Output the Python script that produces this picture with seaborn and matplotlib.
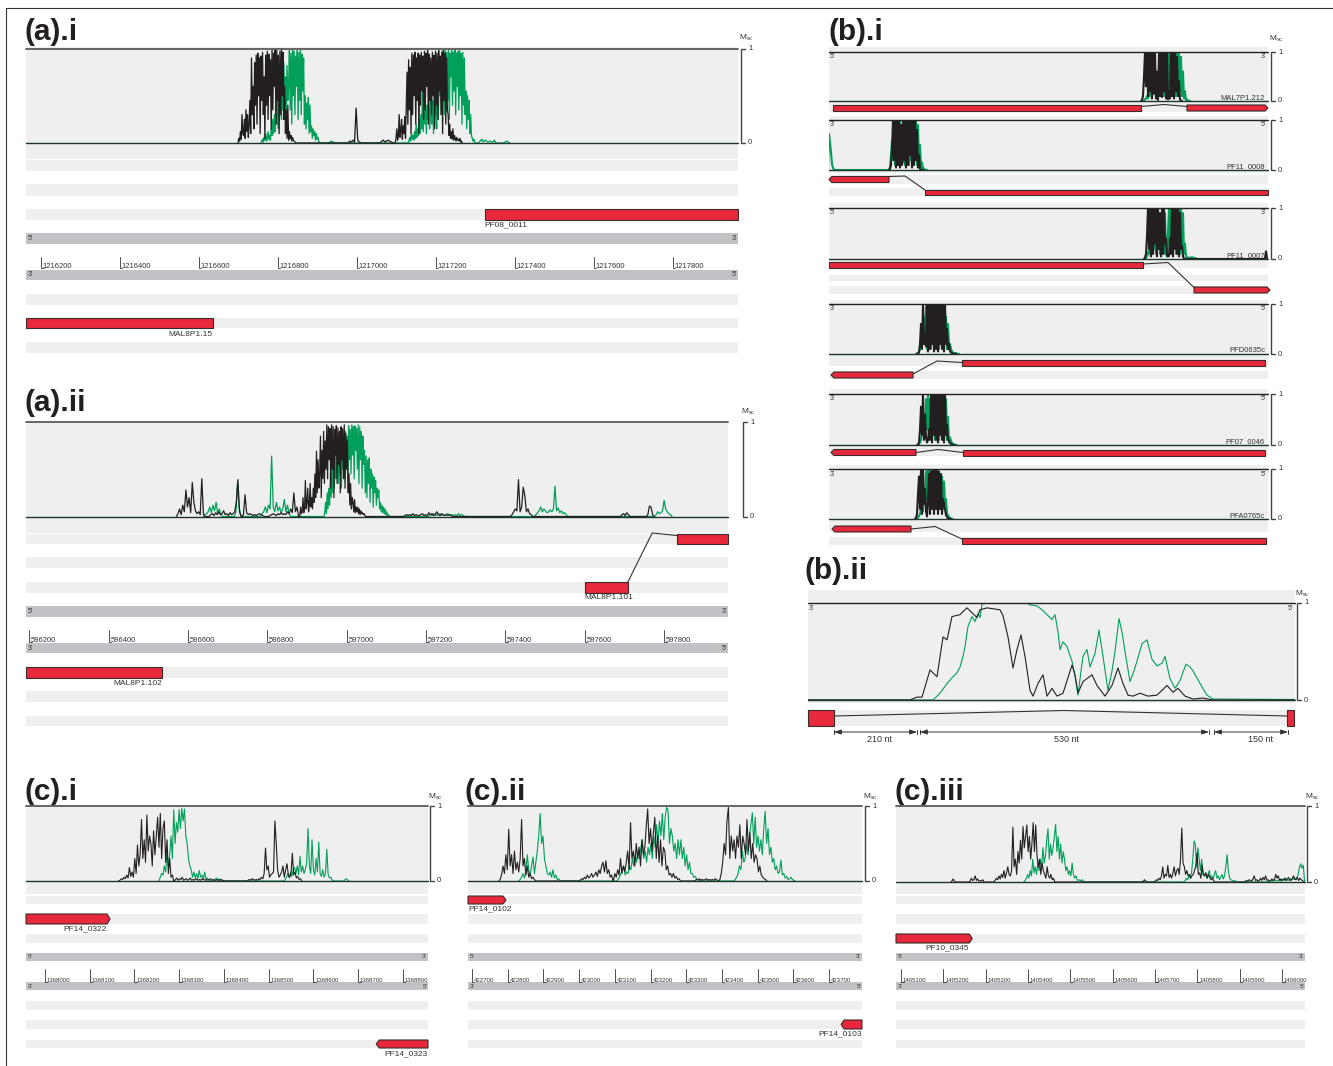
import numpy as np
import pandas as pd
import matplotlib
matplotlib.use("Agg")
import matplotlib.pyplot as plt
from matplotlib.patches import Polygon
import seaborn as sns

sns.set_theme(style="white")
plt.rcParams["font.family"] = ["Liberation Sans", "DejaVu Sans"]
plt.rcParams["mathtext.fontset"] = "custom"
plt.rcParams["mathtext.rm"] = "Liberation Sans"

GREEN = "#00a05a"
BLACK = "#231f20"
BASE = "#1e3329"
RED = "#e8293b"
EDGE = "#3a2a2a"
STRIPE = "#efefef"
STRAND = "#c1c2c5"
TXT = "#333333"

# ---------------------------------------------------------------- data
# Msc traces are lists of (start position, values[, spacing]); spacing defaults per panel.

# (a).i  window on chromosome 8
ai_range = (1216162, 1217965)
ai_ticks = [1216200, 1216400, 1216600, 1216800, 1217000, 1217200, 1217400, 1217600, 1217800]
ai_black = [
    (1216701, [0.05, 0.02, 0.12, 0.04, 0.30, 0.10, 0.08, 0.25, 0.05, 0.35, 0.12, 0.30, 0.06, 0.20,
               0.45, 0.10, 0.90, 0.30, 0.60, 0.15, 0.85, 0.40,
               0.93, 0.20, 0.95, 0.50, 0.90, 0.10, 0.92, 0.45, 0.96, 0.30, 0.70, 0.05, 0.93, 0.40, 0.97, 0.25, 0.94, 0.50,
               0.88, 0.15, 0.99, 0.35, 0.95, 0.60, 1.00, 0.20, 0.98, 0.45, 0.93, 0.10, 0.97, 0.30, 1.00, 0.50, 0.96, 0.25,
               0.60, 0.10, 0.35, 0.05, 0.40, 0.03, 0.12, 0.05,
               0.08, 0.02, 0.06, 0.03, 0.02, 0.01], 2),
    (1216982, [0.02, 0.01, 0.03, 0.01, 0.37, 0.03, 0.01]),
    (1217063, [0.02, 0.03, 0.01, 0.02, 0.03, 0.02, 0.01]),
    (1217099, [0.05, 0.15, 0.03, 0.08, 0.30, 0.06, 0.12, 0.25, 0.04, 0.18, 0.10, 0.28, 0.05, 0.40,
               0.75, 0.20, 0.88, 0.35, 0.80, 0.10,
               0.95, 0.30, 0.93, 0.50, 0.96, 0.20, 0.90, 0.45, 0.95, 0.10, 0.93, 0.40, 0.96, 0.55, 0.92, 0.25, 0.97, 0.35,
               0.95, 0.60, 0.98, 0.20, 0.94, 0.45, 0.90, 0.30, 0.96, 0.50, 0.93, 0.15, 0.97, 0.40, 0.95, 0.25, 0.98, 0.55,
               0.92, 0.30, 0.96, 0.10, 0.98, 0.45, 0.95, 0.20, 0.90, 0.35,
               0.30, 0.08, 0.20, 0.05, 0.12, 0.04, 0.15, 0.03, 0.08,
               0.05, 0.02, 0.06, 0.03, 0.04, 0.02, 0.05, 0.01, 0.02], 2),
]
ai_green = [
    (1216759, [0.02, 0.04, 0.01, 0.06, 0.03, 0.10, 0.02, 0.05, 0.12, 0.04, 0.08, 0.03, 0.15,
               0.08, 0.25, 0.10, 0.30, 0.12, 0.50, 0.20, 0.45, 0.15, 0.60, 0.30, 0.55, 0.25,
               0.78, 0.35, 0.85, 0.40, 0.70, 0.30, 0.82, 0.45, 0.60,
               0.98, 0.35, 0.95, 0.20, 0.99, 0.50, 0.97, 0.30, 0.92, 0.60, 0.98, 0.25, 0.96, 0.45, 0.99, 0.30, 0.94, 0.55,
               0.90, 0.20,
               0.50, 0.15, 0.42, 0.25, 0.48, 0.10, 0.40, 0.12,
               0.18, 0.05, 0.15, 0.08, 0.12, 0.03, 0.10, 0.04, 0.06,
               0.02, 0.01], 2),
    (1216932, [0.01, 0.02, 0.01]),
    (1217132, [0.03, 0.06, 0.02, 0.10, 0.04, 0.08, 0.03, 0.12, 0.05, 0.20, 0.06, 0.15, 0.08, 0.25,
               0.10, 0.30, 0.15, 0.55, 0.12, 0.60, 0.20, 0.35, 0.10, 0.40, 0.25, 0.50, 0.15, 0.30, 0.65, 0.20, 0.45, 0.10,
               0.55, 0.30, 0.40, 0.15, 0.60, 0.25, 0.70,
               0.50, 0.85, 0.40, 0.97,
               0.50, 0.95, 0.30, 0.98, 0.60, 0.96, 0.45, 0.99, 0.25, 0.95, 0.70, 0.98, 0.40, 0.96, 0.55, 0.99, 0.30, 0.95,
               0.60, 0.97, 0.35, 0.98, 0.50, 0.95, 0.20, 0.96, 0.40, 0.90,
               0.30, 0.55, 0.15, 0.50, 0.25, 0.45, 0.10, 0.30, 0.08,
               0.05, 0.02, 0.04, 0.01], 2),
    (1217312, [0.02, 0.04, 0.01, 0.03, 0.02, 0.01, 0.02, 0.01, 0.01, 0.03]),
    (1217375, [0.01, 0.02, 0.01]),
]
ai_gene_fwd = ("PF08_0011", 1217324, 1217965)
ai_gene_rev = ("MAL8P1.15", 1216162, 1216635)

# (a).ii
aii_range = (596192, 597961)
aii_ticks = [596200, 596400, 596600, 596800, 597000, 597200, 597400, 597600, 597800]
aii_black = [
    (596575, [0.03, 0.08, 0.02, 0.12, 0.05, 0.28, 0.10, 0.20, 0.04, 0.36, 0.15, 0.06, 0.03, 0.05, 0.02, 0.40, 0.03]),
    (596658, [0.02, 0.03, 0.01, 0.04, 0.02, 0.05, 0.02, 0.03, 0.06, 0.02, 0.03, 0.01, 0.04, 0.02, 0.03, 0.05, 0.15, 0.39, 0.05]),
    (596740, [0.02, 0.23, 0.04, 0.02, 0.03, 0.02, 0.01, 0.02, 0.01, 0.02, 0.03, 0.02, 0.01]),
    (596807, [0.01, 0.02, 0.03, 0.02, 0.01, 0.03, 0.02, 0.04, 0.02, 0.03, 0.02, 0.05, 0.03, 0.08, 0.04, 0.25, 0.05, 0.10]),
    (596884, [0.10, 0.03, 0.05, 0.20, 0.04, 0.10, 0.38, 0.08, 0.15, 0.30, 0.05, 0.12, 0.35, 0.10, 0.20, 0.08, 0.30, 0.15,
              0.45, 0.20,
              0.69, 0.25, 0.60, 0.30, 0.45, 0.85, 0.20, 0.70, 0.40, 0.90, 0.35, 0.80, 0.50,
              0.97, 0.40, 0.95, 0.60, 0.93, 0.30, 0.97, 0.50, 0.95, 0.20, 0.92, 0.65, 0.96, 0.35, 0.94, 0.55, 0.90, 0.25,
              0.95, 0.60, 0.93, 0.40, 0.97, 0.30, 0.88, 0.50, 0.80, 0.25,
              0.45, 0.12, 0.35, 0.08, 0.20, 0.15, 0.05, 0.18, 0.04, 0.10,
              0.05, 0.10, 0.03, 0.08, 0.02, 0.06, 0.03, 0.04, 0.02, 0.03, 0.01], 2),
    (597147, [0.01, 0.02, 0.01, 0.02, 0.01, 0.03, 0.01, 0.02, 0.01, 0.01, 0.02, 0.03, 0.01, 0.02, 0.01, 0.04, 0.02, 0.03,
              0.01, 0.02, 0.05, 0.02, 0.01, 0.03, 0.02, 0.01, 0.02, 0.01, 0.02, 0.01]),
    (597417, [0.02, 0.05, 0.08, 0.06, 0.39, 0.05, 0.10, 0.31, 0.22, 0.05, 0.08, 0.03, 0.02]),
    (597694, [0.02, 0.03, 0.01, 0.04, 0.02]),
    (597759, [0.02, 0.11, 0.10, 0.02]),
]
aii_green = [
    (596643, [0.02, 0.03, 0.05, 0.10, 0.04, 0.12, 0.06, 0.15, 0.03, 0.08, 0.02]),
    (596721, [0.05, 0.36, 0.10, 0.02]),
    (596787, [0.03, 0.05, 0.10, 0.04, 0.12, 0.08, 0.64, 0.10, 0.05, 0.15, 0.06, 0.10, 0.04, 0.08, 0.18, 0.05, 0.12, 0.03]),
    (596945, [0.05, 0.15, 0.03, 0.25, 0.08, 0.30, 0.12, 0.45, 0.20, 0.50,
              0.25, 0.60, 0.30, 0.75, 0.40, 0.55, 0.80, 0.35, 0.85, 0.45, 0.70, 0.30, 0.80, 0.50, 0.88,
              0.40, 0.90, 0.55, 0.85, 0.30, 0.96, 0.60, 0.92, 0.45, 0.97, 0.65, 0.95, 0.40, 0.96, 0.70, 0.93, 0.50, 0.97,
              0.35, 0.95, 0.60, 0.90, 0.30, 0.85, 0.55, 0.70, 0.25,
              0.64, 0.20, 0.60, 0.35, 0.62, 0.15, 0.50, 0.30, 0.45, 0.10, 0.42, 0.25, 0.38, 0.12, 0.30, 0.20, 0.28, 0.08,
              0.15, 0.05, 0.12, 0.04, 0.10, 0.03, 0.08, 0.02, 0.05, 0.01, 0.02, 0.01], 2),
    (597210, [0.02, 0.01, 0.03, 0.02, 0.01, 0.02, 0.03, 0.01, 0.02, 0.01, 0.02, 0.03, 0.02, 0.01, 0.02, 0.01, 0.02, 0.01,
              0.03, 0.01, 0.02, 0.01]),
    (597477, [0.02, 0.04, 0.06, 0.10, 0.05, 0.08, 0.06, 0.04, 0.05, 0.07, 0.05, 0.08, 0.32, 0.06, 0.09, 0.04, 0.06, 0.03, 0.04, 0.02]),
    (597780, [0.02, 0.05, 0.03, 0.04, 0.06, 0.17, 0.08, 0.05, 0.03, 0.02]),
]
aii_101_exons = [(597600, 597708), (597832, 597961)]
aii_101_kink = 597770
aii_gene_rev = ("MAL8P1.102", 596192, 596535)

# (b).i  six introns, positions in nt (values every 2 nt)
bi_names = ["MAL7P1.212", "PF11_0008", "PF11_0007", "PFD0635c", "PF07_0046", "PFA0765c"]
bi_exon1 = [(8, 624), (6, 120), (0, 628), (10, 168), (10, 174), (12, 164)]
bi_exon2 = [(716, 872), (192, 878), (730, 876), (266, 872), (268, 872), (266, 874)]
bi_kink = [670, 152, 678, 216, 218, 212]
bi_strand = ["+", "-", "+", "-", "-", "-"]
bi_black = [
    [(626, [0.02, 0.10, 0.50, 1.00, 0.30, 1.00, 0.10, 1.00, 0.20, 1.00, 0.05, 1.00, 0.15, 1.00, 0.05, 0.60, 0.02, 1.00,
            0.10, 1.00, 0.08, 1.00, 0.20, 1.00, 0.05, 1.00, 0.03, 0.20, 0.05, 1.00, 0.10, 1.00, 0.05, 1.00, 0.20, 0.90,
            0.10, 0.40, 0.03, 0.01])],
    [(122, [0.02, 0.10, 0.40, 1.00, 0.20, 1.00, 0.05, 1.00, 0.10, 1.00, 0.05, 0.90, 0.10, 1.00, 0.20, 1.00, 0.05, 1.00,
            0.10, 1.00, 0.30, 1.00, 0.05, 1.00, 0.10, 1.00, 0.20, 0.80, 0.05, 0.30, 0.02, 0.01, 0.00])],
    [(632, [0.03, 0.10, 0.45, 1.00, 0.20, 1.00, 0.05, 1.00, 0.10, 1.00, 0.30, 1.00, 0.05, 1.00, 0.20, 0.90, 0.05, 1.00,
            0.10, 1.00, 0.30, 0.40, 0.08, 0.05, 0.06, 0.40, 0.10, 1.00, 0.05, 1.00, 0.20, 1.00, 0.10, 1.00, 0.05, 0.90,
            0.20, 0.25, 0.05, 0.01, 0.00]),
     (872, [0.02, 0.15, 0.02])],
    [(178, [0.01, 0.03, 0.20, 0.60, 0.10, 1.00, 0.20, 0.40, 0.15, 1.00, 0.05, 1.00, 0.10, 1.00, 0.20, 1.00, 0.05, 1.00,
            0.10, 1.00, 0.05, 1.00, 0.20, 1.00, 0.10, 1.00, 0.05, 1.00, 0.20, 0.50, 0.10, 0.20, 0.06, 0.03, 0.02, 0.01,
            0.00, 0.00])],
    [(178, [0.01, 0.05, 0.30, 0.75, 0.20, 1.00, 0.10, 0.60, 0.15, 0.05, 0.10, 0.30, 0.10, 1.00, 0.05, 1.00, 0.20, 1.00,
            0.10, 1.00, 0.05, 1.00, 0.20, 1.00, 0.10, 1.00, 0.05, 1.00, 0.20, 0.40, 0.10, 0.08, 0.04, 0.02, 0.01, 0.00])],
    [(174, [0.02, 0.10, 0.50, 0.85, 0.20, 1.00, 0.10, 1.00, 0.30, 0.60, 0.15, 0.05, 0.40, 0.90, 0.10, 0.95, 0.20, 1.00,
            0.10, 0.98, 0.20, 1.00, 0.10, 0.95, 0.20, 0.90, 0.10, 0.40, 0.30, 0.20, 0.08, 0.04, 0.02, 0.01, 0.00])],
]
bi_green = [
    [(630, [0.01, 0.03, 0.05, 0.10, 0.05, 0.20, 0.10, 0.35, 0.10, 0.40, 0.15, 0.45, 0.10, 0.50, 0.20, 0.55, 0.10, 0.60,
            0.20, 0.70, 0.10, 0.90, 0.20, 1.00, 0.10, 1.00, 0.30, 1.00, 0.10, 1.00, 0.20, 1.00, 0.10, 1.00, 0.30, 1.00,
            0.20, 0.90, 0.10, 0.60, 0.05, 0.20, 0.02, 0.03, 0.01, 0.00])],
    [(0, [0.72, 0.55, 0.35, 0.12, 0.04, 0.01]),
     (120, [0.01, 0.05, 0.30, 0.60, 0.20, 0.90, 0.10, 1.00, 0.10, 1.00, 0.20, 1.00, 0.10, 0.90, 0.15, 1.00, 0.10, 1.00,
            0.30, 1.00, 0.10, 1.00, 0.20, 1.00, 0.10, 1.00, 0.20, 1.00, 0.10, 0.90, 0.10, 0.50, 0.05, 0.15, 0.02, 0.03,
            0.01, 0.00])],
    [(634, [0.02, 0.05, 0.10, 0.20, 0.10, 0.35, 0.10, 0.40, 0.20, 0.50, 0.10, 0.60, 0.20, 0.65, 0.10, 0.70, 0.20, 0.80,
            0.10, 0.90, 0.10, 0.05, 0.50, 0.98, 0.20, 1.00, 0.10, 1.00, 0.20, 1.00, 0.10, 1.00, 0.20, 1.00, 0.10, 1.00,
            0.20, 0.90, 0.10, 0.30, 0.05, 0.03, 0.02, 0.03, 0.01, 0.02, 0.04, 0.02, 0.01, 0.02, 0.01, 0.00])],
    [(176, [0.01, 0.02, 0.05, 0.10, 0.30, 0.50, 0.20, 0.75, 0.30, 0.95, 0.10, 1.00, 0.20, 1.00, 0.10, 1.00, 0.20, 1.00,
            0.10, 1.00, 0.20, 1.00, 0.10, 1.00, 0.20, 1.00, 0.10, 0.90, 0.20, 0.75, 0.10, 0.60, 0.20, 0.20, 0.10, 0.05,
            0.03, 0.02, 0.01, 0.02, 0.01, 0.00])],
    [(180, [0.02, 0.05, 0.10, 0.20, 0.35, 0.55, 0.20, 0.90, 0.30, 1.00, 0.20, 0.90, 0.30, 0.80, 0.20, 0.80, 0.10, 0.75,
            0.20, 0.85, 0.10, 0.85, 0.20, 0.95, 0.10, 1.00, 0.20, 0.90, 0.10, 0.55, 0.05, 0.15, 0.08, 0.04, 0.02, 0.01,
            0.01, 0.00])],
    [(176, [0.01, 0.03, 0.06, 0.10, 0.20, 0.30, 0.15, 0.60, 0.30, 0.95, 0.40, 1.00, 0.30, 1.00, 0.20, 0.95, 0.30, 0.97,
            0.20, 0.96, 0.30, 0.95, 0.20, 0.88, 0.30, 0.85, 0.20, 0.75, 0.30, 0.40, 0.10, 0.08, 0.04, 0.02, 0.01, 0.00])],
]

# (b).ii  close-up of one intron, positions in nt
bii_black_pos = [0, 204, 218, 228, 244, 258, 270, 278, 288, 304, 318, 330, 338, 344, 358, 384, 390, 400, 410, 418, 426,
                 434, 444, 450, 460, 470, 478, 488, 498, 510, 528, 534, 540, 550, 568, 578, 594, 608, 620, 630, 640, 650,
                 664, 680, 698, 718, 730, 740, 754, 770, 790, 810, 974]
bii_black_val = [0.0, 0.0, 0.03, 0.03, 0.31, 0.24, 0.65, 0.62, 0.86, 0.88, 0.95, 0.89, 0.85, 0.93, 0.95, 0.93, 0.87,
                 0.65, 0.33, 0.52, 0.67, 0.45, 0.10, 0.04, 0.17, 0.26, 0.04, 0.12, 0.04, 0.07, 0.36, 0.26, 0.07, 0.19,
                 0.26, 0.15, 0.04, 0.15, 0.33, 0.17, 0.05, 0.04, 0.07, 0.04, 0.05, 0.15, 0.08, 0.12, 0.04, 0.01, 0.02,
                 0.0, 0.0]
bii_green_pos = [0, 250, 264, 278, 290, 298, 304, 310, 314, 320, 328, 334, 340, 344, 348, 364, 438, 444, 458, 468, 478,
                 488, 494, 500, 504, 510, 518, 528, 534, 540, 546, 550, 558, 564, 574, 582, 590, 600, 608, 614, 622, 628,
                 634, 644, 652, 658, 668, 678, 688, 698, 708, 714, 724, 734, 744, 756, 764, 770, 784, 798, 810, 824, 974]
bii_green_val = [0.0, 0.0, 0.07, 0.17, 0.24, 0.28, 0.34, 0.45, 0.55, 0.76, 0.86, 0.81, 0.89, 0.85, 0.99, 1.0, 1.0, 0.98,
                 0.97, 0.93, 0.88, 0.83, 0.88, 0.70, 0.52, 0.60, 0.55, 0.40, 0.25, 0.05, 0.30, 0.45, 0.52, 0.34, 0.48,
                 0.72, 0.45, 0.10, 0.30, 0.50, 0.84, 0.70, 0.50, 0.19, 0.30, 0.40, 0.58, 0.62, 0.42, 0.35, 0.38, 0.45,
                 0.22, 0.12, 0.20, 0.37, 0.34, 0.30, 0.17, 0.05, 0.01, 0.01, 0.005]
bii_exons = [(0, 52), (958, 972)]
bii_kink = 512
bii_dims = [(52, 218), (224, 802), (812, 960)]
bii_dim_labels = ["210 nt", "530 nt", "150 nt"]
bii_dim_label_pos = [144, 516, 904]

# (c).i  (values every 3 bp)
ci_range = (1367958, 1368856)
ci_ticks = [1368000, 1368100, 1368200, 1368300, 1368400, 1368500, 1368600, 1368700, 1368800]
ci_black = [
    (1368168, [0.01, 0.03, 0.02, 0.05, 0.03, 0.08, 0.04, 0.18, 0.06, 0.12, 0.05, 0.30, 0.10, 0.48, 0.20, 0.35, 0.82, 0.30,
               0.55, 0.25, 0.88, 0.40, 0.60, 0.50, 0.20, 0.67, 0.35, 0.60, 0.85, 0.45, 0.90, 0.30, 0.70, 0.80, 0.25, 0.55,
               0.10, 0.30, 0.05, 0.08]),
    (1368292, [0.02, 0.04, 0.01, 0.03, 0.02, 0.05, 0.01, 0.02, 0.03, 0.01, 0.02, 0.04, 0.01, 0.02, 0.01, 0.03, 0.02, 0.01,
               0.02, 0.01, 0.03, 0.02, 0.01, 0.02, 0.01, 0.02, 0.03, 0.01, 0.02, 0.01, 0.01, 0.02, 0.01, 0.01, 0.02, 0.01]),
    (1368454, [0.01, 0.02, 0.01, 0.03, 0.02, 0.01, 0.02, 0.01, 0.03, 0.02, 0.05, 0.03, 0.10, 0.44, 0.15, 0.20, 0.05, 0.08,
               0.10, 0.12, 0.80, 0.50, 0.15, 0.05, 0.08, 0.12, 0.20, 0.05, 0.15, 0.23, 0.08, 0.05, 0.10, 0.37, 0.08, 0.12,
               0.04, 0.06, 0.02, 0.03]),
]
ci_green = [
    (1368258, [0.05, 0.10, 0.08, 0.20, 0.12, 0.40, 0.20, 0.35, 0.60, 0.30, 0.95, 0.50, 0.78, 0.65, 0.95, 0.70, 0.97, 0.80,
               0.96, 0.60, 0.50, 0.30, 0.20, 0.15, 0.05, 0.12, 0.04, 0.10, 0.03, 0.14, 0.05, 0.08, 0.02, 0.12, 0.03, 0.04, 0.01]),
    (1368380, [0.02, 0.04, 0.01, 0.03, 0.02, 0.01]),
    (1368537, [0.02, 0.05, 0.10, 0.04, 0.12, 0.06, 0.15, 0.18, 0.10, 0.20, 0.08, 0.33, 0.12, 0.20, 0.10, 0.15, 0.25, 0.70,
               0.20, 0.10, 0.55, 0.15, 0.08, 0.30, 0.12, 0.52, 0.10, 0.06, 0.15, 0.05, 0.10, 0.42, 0.08, 0.04, 0.05, 0.01]),
    (1368671, [0.02, 0.03, 0.01]),
]
ci_gene_fwd = ("PF14_0322", 1367958, 1368139)
ci_gene_rev = ("PF14_0323", 1368747, 1368856)

# (c).ii  (values every 4 bp)
cii_range = (422689, 423792)
cii_ticks = [422700, 422800, 422900, 423000, 423100, 423200, 423300, 423400, 423500, 423600, 423700]
cii_black = [
    (422779, [0.02, 0.08, 0.20, 0.10, 0.35, 0.15, 0.69, 0.20, 0.35, 0.10, 0.40, 0.15, 0.25, 0.12, 0.30, 0.82, 0.20, 0.30,
              0.08, 0.20, 0.05, 0.10, 0.03, 0.05, 0.02]),
    (423003, [0.01, 0.03, 0.02, 0.05, 0.03, 0.08, 0.04, 0.06, 0.10, 0.05, 0.08, 0.12, 0.06, 0.15, 0.10, 0.20, 0.25, 0.12,
              0.27, 0.10, 0.15, 0.05, 0.08]),
    (423100, [0.10, 0.05, 0.15, 0.08, 0.30, 0.10, 0.20, 0.12, 0.25, 0.40, 0.15, 0.78, 0.30, 0.40, 0.20, 0.50, 0.30, 0.45,
              0.20, 0.55, 0.35, 0.45, 0.72, 0.96, 0.50, 0.70, 0.40, 0.65, 0.85, 0.30, 0.60, 0.25, 0.55, 0.20, 0.45, 0.40,
              0.15, 0.20, 0.08, 0.10, 0.05, 0.10, 0.04, 0.06, 0.02, 0.03]),
    (423325, [0.01, 0.02, 0.01, 0.03, 0.01, 0.02, 0.01, 0.02, 0.03, 0.01, 0.02, 0.01, 0.02, 0.01, 0.03, 0.02]),
    (423394, [0.02, 0.10, 0.25, 0.50, 0.35, 0.80, 0.98, 0.30, 0.60, 0.40, 0.55, 0.30, 0.60, 0.45, 0.75, 0.30, 0.60, 0.50,
              0.35, 0.82, 0.40, 0.65, 0.30, 0.50, 0.25, 0.35, 0.30, 0.12, 0.20, 0.08, 0.05, 0.03, 0.02]),
]
cii_green = [
    (422835, [0.02, 0.05, 0.10, 0.04, 0.12, 0.35, 0.15, 0.08, 0.20, 0.32, 0.10, 0.25, 0.40, 0.60, 0.90, 0.50, 0.60, 0.30,
              0.20, 0.10, 0.08, 0.12, 0.05, 0.15, 0.04, 0.08, 0.02, 0.03]),
    (423109, [0.02, 0.05, 0.10, 0.15, 0.20, 0.08, 0.12, 0.10, 0.20, 0.15, 0.30, 0.20, 0.35, 0.25, 0.40, 0.30, 0.45, 0.55,
              0.30, 0.40, 0.25, 0.45, 0.35, 0.50, 0.30, 0.60, 0.45, 0.75, 0.50, 0.80, 0.60, 0.90, 0.55, 0.85, 0.98, 0.95,
              0.50, 0.70, 0.60, 0.40, 0.50, 0.30, 0.55, 0.35, 0.55, 0.30, 0.45, 0.20, 0.35, 0.15, 0.25, 0.10, 0.10, 0.05,
              0.06, 0.03, 0.02, 0.01]),
    (423437, [0.02, 0.05, 0.10, 0.20, 0.15, 0.40, 0.25, 0.30, 0.50, 0.35, 0.60, 0.75, 0.91, 0.50, 0.85, 0.45, 0.60, 0.40,
              0.55, 0.35, 0.70, 0.93, 0.50, 0.70, 0.35, 0.45, 0.25, 0.30, 0.15, 0.20, 0.10, 0.12, 0.28, 0.08, 0.10, 0.04,
              0.06, 0.02, 0.03, 0.05, 0.02, 0.01]),
]
cii_gene_fwd = ("PF14_0102", 422689, 422787)
cii_gene_rev = ("PF14_0103", 423742, 423792)

# (c).iii  (values every 3 bp)
ciii_range = (1405088, 1406054)
ciii_ticks = [1405100, 1405200, 1405300, 1405400, 1405500, 1405600, 1405700, 1405800, 1405900, 1406000]
ciii_black = [
    (1405220, [0.01, 0.04, 0.01]),
    (1405263, [0.01, 0.05, 0.02, 0.03, 0.08, 0.02, 0.04, 0.01, 0.02, 0.01, 0.03]),
    (1405322, [0.02, 0.05, 0.03, 0.08, 0.04, 0.10, 0.06, 0.15, 0.05, 0.12, 0.20, 0.10, 0.08, 0.15, 0.72, 0.20, 0.30, 0.10,
               0.40, 0.25, 0.55, 0.30, 0.73, 0.45, 0.60, 0.75, 0.40, 0.60, 0.30, 0.50, 0.78, 0.40, 0.75, 0.35, 0.20, 0.30,
               0.10, 0.25, 0.15, 0.10, 0.05, 0.20, 0.08, 0.05, 0.10, 0.03, 0.05]),
    (1405672, [0.01, 0.03, 0.01]),
    (1405700, [0.01, 0.03, 0.02, 0.05, 0.03, 0.08, 0.20, 0.05, 0.10, 0.08, 0.22, 0.06, 0.10, 0.05, 0.12, 0.20, 0.08, 0.15,
               0.18, 0.10, 0.30, 0.71, 0.25, 0.20, 0.10, 0.15, 0.08, 0.10, 0.05, 0.08, 0.10, 0.15, 0.20, 0.38, 0.10, 0.12,
               0.05, 0.22, 0.10, 0.08, 0.12, 0.05, 0.10, 0.06, 0.03, 0.05, 0.02]),
    (1405913, [0.01, 0.02, 0.01, 0.03, 0.02, 0.01, 0.04, 0.08, 0.02, 0.03, 0.01, 0.02, 0.05, 0.02, 0.06, 0.03, 0.08, 0.02,
               0.03, 0.01, 0.02, 0.04, 0.02, 0.03, 0.10, 0.05, 0.08, 0.02, 0.04, 0.02, 0.03, 0.05, 0.02, 0.04, 0.06, 0.03,
               0.02, 0.05, 0.08, 0.04, 0.03, 0.06, 0.02, 0.05, 0.03, 0.02]),
]
ciii_green = [
    (1405393, [0.02, 0.05, 0.10, 0.05, 0.15, 0.08, 0.30, 0.12, 0.20, 0.10, 0.25, 0.15, 0.30, 0.20, 0.45, 0.25, 0.35, 0.55,
               0.70, 0.30, 0.50, 0.35, 0.45, 0.60, 0.76, 0.40, 0.60, 0.30, 0.50, 0.25, 0.40, 0.30, 0.15, 0.20, 0.10, 0.15,
               0.08, 0.25, 0.10, 0.05, 0.08, 0.03, 0.02, 0.03, 0.01, 0.03, 0.01]),
    (1405771, [0.02, 0.05, 0.03, 0.08, 0.05, 0.12, 0.30, 0.54, 0.50, 0.20, 0.45, 0.30, 0.15, 0.30, 0.10, 0.08, 0.12, 0.05,
               0.10, 0.15, 0.05, 0.08, 0.04, 0.10, 0.15, 0.05, 0.08, 0.03, 0.06, 0.10, 0.04, 0.08, 0.20, 0.36, 0.15, 0.05,
               0.03, 0.02, 0.01, 0.02]),
    (1405972, [0.01, 0.02, 0.01, 0.03, 0.02, 0.01, 0.02, 0.03, 0.01, 0.02, 0.04, 0.02, 0.05, 0.02, 0.03, 0.02, 0.04, 0.03,
               0.05, 0.03, 0.04, 0.06, 0.10, 0.20, 0.24, 0.18, 0.22]),
]
ciii_gene_fwd = ("PF10_0345", 1405088, 1405261)

# ---------------------------------------------------------------- drawing helpers
W, H = 1333, 1066
fig = plt.figure(figsize=(W / 100, H / 100), dpi=100)
fig.patch.set_facecolor("white")


def px_axes(x0, y0, x1, y1, z):
    ax = fig.add_axes([x0 / W, 1 - y1 / H, (x1 - x0) / W, (y1 - y0) / H], zorder=z)
    ax.set_axis_off()
    return ax


canvas = px_axes(0, 0, W, H, 0)
canvas.set_xlim(0, W)
canvas.set_ylim(H, 0)


def to_frame(segments, step):
    pos, val = [], []
    for seg in segments:
        start, vals = seg[0], seg[1]
        st = seg[2] if len(seg) > 2 else step
        pos.append(start - st)
        val.append(0.0)
        pos.extend(start + st * np.arange(len(vals)))
        val.extend(vals)
        pos.append(start + st * len(vals))
        val.append(0.0)
    return pd.DataFrame({"pos": pos, "msc": val})


def draw_signal(x0, x1, ytop, ybase, xlim, black_df, green_df, top_color="#5a5a5a", top_lw=1.3, lw=0.8):
    ax = px_axes(x0, ytop, x1, ybase, 3)
    for df, col in ((green_df, GREEN), (black_df, BLACK)):
        sns.lineplot(data=df, x="pos", y="msc", ax=ax, color=col, linewidth=lw,
                     estimator=None, sort=False, legend=False)
    ax.set_xlim(*xlim)
    ax.set_ylim(0, 1)
    ax.axhline(1, color=top_color, lw=top_lw, clip_on=False, zorder=5)
    ax.axhline(0, color=BASE, lw=1.0, clip_on=False, zorder=5)
    ax.set_axis_off()
    return ax


def track_axes(x0, x1, y0, y1, xlim):
    ax = px_axes(x0, y0, x1, y1, 2)
    ax.set_xlim(*xlim)
    ax.set_ylim(y1, y0)
    return ax, (xlim[1] - xlim[0]) / (x1 - x0)


def exon(ax, s, e, ya, yb, tip, bpp):
    t = 3 * bpp
    ym = (ya + yb) / 2
    if tip == "right":
        pts = [(s, ya), (e, ya), (e + t, ym), (e, yb), (s, yb)]
    elif tip == "left":
        pts = [(s, ya), (e, ya), (e, yb), (s, yb), (s - t, ym)]
    else:
        pts = [(s, ya), (e, ya), (e, yb), (s, yb)]
    ax.add_patch(Polygon(pts, closed=True, fc=RED, ec=EDGE, lw=0.8, joinstyle="miter",
                         clip_on=False, zorder=4))


def bracket(x, yt, yb, msc_y=None):
    canvas.plot([x + 4, x, x, x + 4], [yt, yt, yb, yb], color="#444444", lw=1.0,
                solid_joinstyle="miter")
    canvas.text(x + 7, yt, "1", fontsize=5.5, color=TXT, va="center", ha="left")
    canvas.text(x + 7, yb, "0", fontsize=5.5, color=TXT, va="center", ha="left")
    if msc_y is not None:
        canvas.text(x + 5, msc_y, r"M$_{\mathregular{sc}}$", fontsize=6, color=TXT,
                    va="center", ha="center")


def title(x, y, s):
    canvas.text(x, y, s, fontsize=21.5, fontweight="bold", color=BLACK, va="baseline", ha="left")


def genome_panel(x0, x1, L, xlim, ticks, tick_fs, black, green, step, lw=0.8):
    tr, bpp = track_axes(x0, x1, L["box"][0], L["rev"][-1][1] + 14, xlim)
    tr.axhspan(*L["box"], color=STRIPE, lw=0, zorder=0)
    for ya, yb in L["fwd"] + L["rev"]:
        tr.axhspan(ya, yb, color=STRIPE, lw=0, zorder=0)
    for (ya, yb), left, right in ((L["s5"], "5'", "3'"), (L["s3"], "3'", "5'")):
        tr.axhspan(ya, yb, color=STRAND, lw=0, zorder=0)
        tr.text(xlim[0] + 2 * bpp, (ya + yb) / 2, left, fontsize=L["sfs"], color=TXT, va="center", ha="left")
        tr.text(xlim[1] - 1 * bpp, (ya + yb) / 2, right, fontsize=L["sfs"], color=TXT, va="center", ha="right")
    t0, t1 = L["tk"]
    for t in ticks:
        tr.plot([t, t, t + 2.5 * bpp], [t0, t1, t1], color=TXT, lw=0.6, solid_joinstyle="miter")
        tr.text(t + 1.8 * bpp, t1 - 0.3, f"{t}", fontsize=tick_fs, color=TXT, va="baseline", ha="left")
    draw_signal(x0, x1, L["top"], L["base"], xlim, to_frame(black, step), to_frame(green, step), lw=lw)
    return tr, bpp


# ---------------------------------------------------------------- (a).i
title(24, 40, "(a).i")
La = dict(box=(47, 159), top=48.5, base=143, fwd=[(160, 171), (184, 196), (209, 220)],
          s5=(233, 244), tk=(257, 268), s3=(270, 280), rev=[(294, 305), (318, 328), (342, 353)], sfs=5)
tr, bpp = genome_panel(26, 738, La, ai_range, ai_ticks, 5.5, ai_black, ai_green, 4, lw=0.95)
name, s, e = ai_gene_fwd
exon(tr, s, e, 209, 220, None, bpp)
tr.text(s, 221.5, name, fontsize=6, color=TXT, va="top", ha="left")
name, s, e = ai_gene_rev
exon(tr, s, e, 318, 328, None, bpp)
tr.text(e, 330.5, name, fontsize=6, color=TXT, va="top", ha="right")
bracket(741, 48.5, 143, 38)

# ---------------------------------------------------------------- (a).ii
title(24, 411, "(a).ii")
Lb = dict(box=(421, 533), top=422, base=516.5, fwd=[(534, 544), (557, 568), (582, 593)],
          s5=(606, 617), tk=(630, 642), s3=(643, 653), rev=[(667, 678), (691, 702), (716, 726)], sfs=5)
tr, bpp = genome_panel(26, 728, Lb, aii_range, aii_ticks, 5.5, aii_black, aii_green, 4, lw=0.9)
(s1, e1), (s2, e2) = aii_101_exons
exon(tr, s1, e1, 582, 593, None, bpp)
exon(tr, s2, e2, 534, 544, None, bpp)
tr.plot([e1, aii_101_kink, s2], [582.5, 533, 535.5], color=TXT, lw=0.8, zorder=3)
tr.text(s1, 594, "MAL8P1.101", fontsize=6, color=TXT, va="top", ha="left")
name, s, e = aii_gene_rev
exon(tr, s, e, 667, 678, None, bpp)
tr.text(e, 679.5, name, fontsize=6, color=TXT, va="top", ha="right")
bracket(743, 422, 516.5, 412)

# ---------------------------------------------------------------- (b).i
title(829, 40, "(b).i")
bi_layout = [
    dict(gray=(47, 112), top=52, base=101, rows=[(105, 111), (105, 111)], extra=[],
         intron=[106.5, 104.5, 106.5], ends=("5'", "3'")),
    dict(gray=(116, 173), top=120, base=170, rows=[(176.5, 182.5), (189.5, 195)], extra=[(175, 184), (188, 196)],
         intron=[176.5, 176, 190], ends=("3'", "5'")),
    dict(gray=(203, 268), top=208, base=259, rows=[(262, 268), (287, 293)], extra=[(275, 281), (286, 294)],
         intron=[264, 262.5, 287.5], ends=("5'", "3'")),
    dict(gray=(300, 366), top=304, base=354, rows=[(372, 378), (360, 366)], extra=[(371, 379)],
         intron=[374, 361, 362.5], ends=("3'", "5'")),
    dict(gray=(389, 456), top=394, base=445, rows=[(449.5, 455.5), (449.5, 455.5)], extra=[],
         intron=[452.5, 449.5, 452.5], ends=("3'", "5'")),
    dict(gray=(465, 532), top=469, base=519, rows=[(526, 532), (538, 544)], extra=[(537, 545)],
         intron=[529, 526.5, 539], ends=("3'", "5'")),
]
bi_xlim = (0, 878)
for k, L in enumerate(bi_layout):
    bottom = max([L["gray"][1]] + [b for _, b in L["extra"]]) + 2
    tr, bpp = track_axes(829, 1268, L["gray"][0], bottom, bi_xlim)
    tr.axhspan(*L["gray"], color=STRIPE, lw=0, zorder=0)
    for ya, yb in L["extra"]:
        tr.axhspan(ya, yb, color=STRIPE, lw=0, zorder=0)
    s1, e1 = bi_exon1[k]
    s2, e2 = bi_exon2[k]
    tip1 = "left" if bi_strand[k] == "-" else None
    tip2 = "right" if bi_strand[k] == "+" else None
    exon(tr, s1, e1, *L["rows"][0], tip1, bpp)
    exon(tr, s2, e2, *L["rows"][1], tip2, bpp)
    tr.plot([e1, bi_kink[k], s2], L["intron"], color=TXT, lw=0.8, zorder=3)
    tr.text(2, L["top"] + 5, L["ends"][0], fontsize=5, color=TXT, va="center", ha="left", zorder=6)
    tr.text(874, L["top"] + 5, L["ends"][1], fontsize=5, color=TXT, va="center", ha="right", zorder=6)
    tr.text(872, L["base"] - 1.5, bi_names[k], fontsize=5.5, color=TXT, va="baseline", ha="right", zorder=6)
    draw_signal(829, 1268, L["top"], L["base"], bi_xlim, to_frame(bi_black[k], 2), to_frame(bi_green[k], 2),
                top_color="#222222", top_lw=1.0, lw=1.5)
    bracket(1271, L["top"], L["base"], 39 if k == 0 else None)

# ---------------------------------------------------------------- (b).ii
title(805, 579, "(b).ii")
bii_xlim = (0, 974)
tr, bpp = track_axes(808, 1295, 590, 746, bii_xlim)
tr.axhspan(590, 703, color=STRIPE, lw=0, zorder=0)
tr.axhspan(710, 726, color=STRIPE, lw=0, zorder=0)
exon(tr, *bii_exons[0], 710, 726, None, bpp)
exon(tr, *bii_exons[1], 710, 726, None, bpp)
tr.plot([bii_exons[0][1], bii_kink, bii_exons[1][0]], [716, 710.5, 716], color=TXT, lw=0.8, zorder=3)
tr.text(2, 608, "3'", fontsize=5, color=TXT, va="center", ha="left", zorder=6)
tr.text(970, 608, "5'", fontsize=5, color=TXT, va="center", ha="right", zorder=6)
for (s, e), lab, lx in zip(bii_dims, bii_dim_labels, bii_dim_label_pos):
    tr.annotate("", xy=(e, 732), xytext=(s, 732),
                arrowprops=dict(arrowstyle="<|-|>,head_length=0.35,head_width=0.12", color=TXT, lw=0.7,
                                shrinkA=0, shrinkB=0))
    tr.plot([s, s], [730, 734], color=TXT, lw=0.7)
    tr.plot([e, e], [730, 734], color=TXT, lw=0.7)
    tr.text(lx, 739, lab, fontsize=6.5, color=TXT, va="center", ha="center")
bii_b = pd.DataFrame({"pos": bii_black_pos, "msc": bii_black_val})
bii_g = pd.DataFrame({"pos": bii_green_pos, "msc": bii_green_val})
draw_signal(808, 1295, 603, 700, bii_xlim, bii_b, bii_g, top_color="#222222", top_lw=1.0, lw=0.8)
bracket(1297, 603, 700, 594)

# ---------------------------------------------------------------- (c)
Lc = dict(box=(805, 894), top=806, base=881, fwd=[(896, 904), (914, 924), (934, 943)],
          s5=(953, 961), tk=(969, 982), s3=(982, 990), rev=[(1001, 1010), (1020, 1029), (1040, 1048)], sfs=4.5)

title(24, 800, "(c).i")
tr, bpp = genome_panel(26, 428, Lc, ci_range, ci_ticks, 4.3, ci_black, ci_green, 3)
name, s, e = ci_gene_fwd
exon(tr, s, e, 914, 924, "right", bpp)
tr.text(e, 925, name, fontsize=6, color=TXT, va="top", ha="right")
name, s, e = ci_gene_rev
exon(tr, s, e, 1040, 1048, "left", bpp)
tr.text(e, 1050, name, fontsize=6, color=TXT, va="top", ha="right")
bracket(430, 806, 881, 797)

title(464, 800, "(c).ii")
tr, bpp = genome_panel(468, 862, Lc, cii_range, cii_ticks, 4.3, cii_black, cii_green, 4)
name, s, e = cii_gene_fwd
exon(tr, s, e, 896, 904, "right", bpp)
tr.text(s, 905, name, fontsize=6, color=TXT, va="top", ha="left")
name, s, e = cii_gene_rev
exon(tr, s, e, 1020, 1029, "left", bpp)
tr.text(e, 1030, name, fontsize=6, color=TXT, va="top", ha="right")
bracket(865, 806, 881, 797)

title(894, 800, "(c).iii")
Lc3 = dict(Lc, base=882)
tr, bpp = genome_panel(896, 1305, Lc3, ciii_range, ciii_ticks, 4.3, ciii_black, ciii_green, 3)
name, s, e = ciii_gene_fwd
exon(tr, s, e, 934, 943, "right", bpp)
tr.text(e, 944, name, fontsize=6, color=TXT, va="top", ha="right")
bracket(1307, 806, 882, 797)

# outer frame (top and left edges)
canvas.plot([6, 6, W], [H, 8, 8], color="#333333", lw=0.8)

fig.savefig("out.png", dpi=100, facecolor="white")
